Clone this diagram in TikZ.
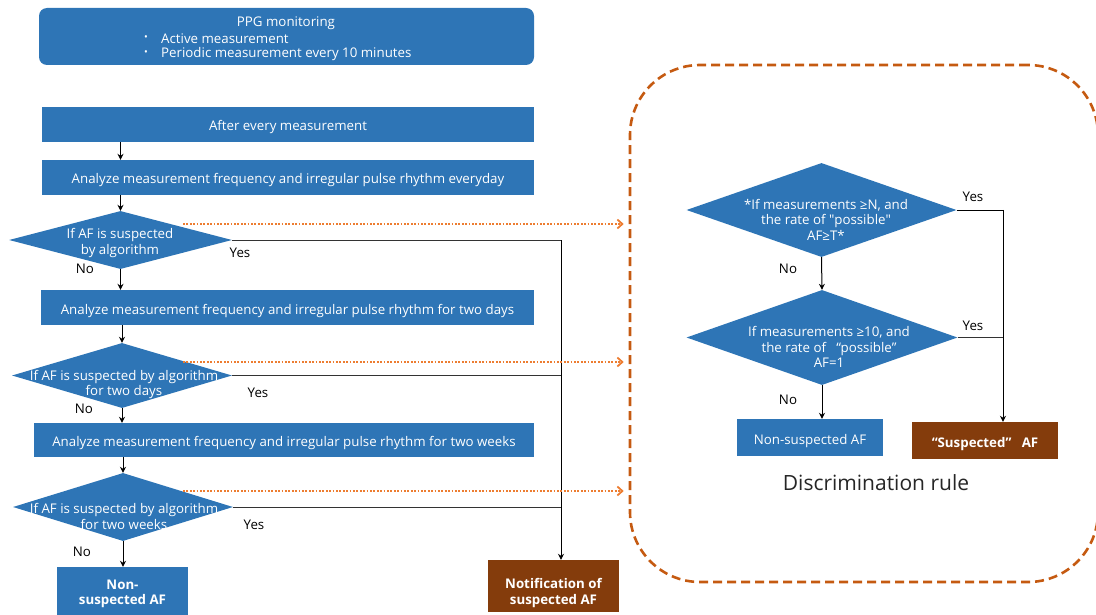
\documentclass[tikz,border=0pt]{standalone}
\usepackage{fontspec}
\setmainfont{Open Sans}
\usetikzlibrary{shapes.geometric,arrows.meta}
\definecolor{flowblue}{HTML}{2E75B6}
\definecolor{flowbrown}{HTML}{843C0C}
\definecolor{linkorange}{HTML}{ED7D31}
\definecolor{ruleorange}{HTML}{C55A11}
\begin{document}
\begin{tikzpicture}[x=1pt,y=-1pt,
  bluebox/.style={fill=flowblue, text=white, inner sep=0pt, font=\fontsize{13.3}{15.5}\selectfont},
  oneline/.style={text height=13pt, text depth=0pt},
  brownbox/.style={fill=flowbrown, text=white, inner sep=0pt, font=\fontsize{13.3}{15.5}\selectfont\bfseries, align=center},
  decision/.style={diamond, fill=flowblue, inner sep=0pt},
  dtext/.style={text=white, align=center, inner sep=0pt, font=\fontsize{13.3}{15.5}\selectfont},
  lbl/.style={inner sep=0pt, font=\fontsize{13.3}{15.5}\selectfont},
  flow/.style={black, line width=1pt, -{Stealth[length=6pt,width=6pt]}},
  yesline/.style={black!80, line width=0.8pt},
  link/.style={linkorange, line width=1.8pt, dash pattern=on 1.8pt off 1.6pt, -{Straight Barb[length=5pt,width=9pt]}, shorten >=5pt},
]
\useasboundingbox (0,0) rectangle (1096,615);

% discrimination rule frame
\node[draw=ruleorange, line width=2.6pt, dash pattern=on 9pt off 5pt,
      rounded corners=70pt, minimum width=468pt, minimum height=517pt, inner sep=0pt]
      (rule) at (864,323.5) {};

% monitoring header
\node[bluebox, rounded corners=8pt, minimum width=495pt, minimum height=57pt] (ppg) at (286.5,36.5) {};
\node[lbl, text=white] (ppgt) at (286,23) {PPG monitoring};
\node[lbl, text=white, font=\fontsize{10}{12}\selectfont] (bul1) at (146,38) {•};
\node[lbl, text=white, anchor=west] (ppg1) at (161,39) {Active measurement};
\node[lbl, text=white, font=\fontsize{10}{12}\selectfont] (bul2) at (146,53) {•};
\node[lbl, text=white, anchor=west] (ppg2) at (161,54) {Periodic measurement every 10 minutes};

% main flow
\node[bluebox, oneline, minimum width=492pt, minimum height=35pt] (b1) at (288,124.5) {After every measurement};
\node[bluebox, oneline, minimum width=492pt, minimum height=35pt] (b2) at (288,177.5) {Analyze measurement frequency and irregular pulse rhythm everyday};
\node[decision, minimum width=223pt, minimum height=58pt] (d1) at (120.5,240) {};
\node[dtext] (d1t) at (120,243) {If AF is suspected\\by algorithm};
\node[bluebox, oneline, minimum width=493pt, minimum height=35pt] (b3) at (287.5,307.5) {Analyze measurement frequency and irregular pulse rhythm for two days};
\node[decision, minimum width=220pt, minimum height=65pt] (d2) at (122,375.5) {};
\node[dtext] (d2t) at (124,384.5) {If AF is suspected by algorithm\\for two days};
\node[bluebox, oneline, minimum width=500pt, minimum height=34pt] (b4) at (284,440) {Analyze measurement frequency and irregular pulse rhythm for two weeks};
\node[decision, minimum width=220pt, minimum height=68pt] (d3) at (123,507) {};
\node[dtext] (d3t) at (124,516.5) {If AF is suspected by algorithm\\for two weeks};
\node[bluebox, minimum width=131pt, minimum height=54pt, align=center, font=\fontsize{13.3}{15.5}\selectfont\bfseries] (non1) at (122.5,594) {Non-\\suspected AF};
\node[brownbox, minimum width=131pt, minimum height=52pt] (notif) at (553.5,586) {};
\node[brownbox, fill=none] (notift) at (553.5,593) {Notification of\\suspected AF};

\draw[flow] (b1.south -| d1.north) -- (b2.north -| d1.north);
\draw[flow] (b2.south -| d1.north) -- (d1.north);
\draw[flow] (d1.south) -- (b3.north -| d1.south);
\draw[flow] (b3.south -| d2.north) -- (d2.north);
\draw[flow] (d2.south) -- (b4.north -| d2.south);
\draw[flow] (b4.south -| d3.north) -- (d3.north);
\draw[flow] (d3.south) -- (non1.north -| d3.south);

% yes branches to notification
\coordinate (bus) at (561,240);
\draw[yesline] (d1.east) -- (bus);
\draw[yesline] (d2.east) -- (d2.east -| bus);
\draw[yesline] (d3.east) -- (d3.east -| bus);
\draw[flow, line width=0.9pt] (bus) -- (bus |- notif.north);

\node[lbl] (y1) at (240,253) {Yes};
\node[lbl] (n1) at (85,269) {No};
\node[lbl] (y2) at (258,393) {Yes};
\node[lbl] (n2) at (84,409) {No};
\node[lbl] (y3) at (254,525) {Yes};
\node[lbl] (n3) at (82,552) {No};

% links to the discrimination rule
\coordinate (o1) at (183,224);
\coordinate (o2) at (183,362);
\coordinate (o3) at (183,491);
\draw[link] (o1) -- (o1 -| rule.west);
\draw[link] (o2) -- (o2 -| rule.west);
\draw[link] (o3) -- (o3 -| rule.west);

% discrimination rule
\node[decision, minimum width=270pt, minimum height=94pt] (r1) at (821.5,210) {};
\node[dtext] (r1t) at (826,219.5) {*If measurements ≥N, and\\the rate of \textquotedbl possible\textquotedbl\\AF≥T*};
\node[decision, minimum width=271pt, minimum height=95pt] (r2) at (822,337.5) {};
\node[dtext] (r2t) at (829,347) {If measurements ≥10, and\\the rate of \ \ “possible”\\AF=1};
\node[bluebox, oneline, minimum width=146pt, minimum height=37pt] (rnon) at (810,437.5) {Non-suspected AF};
\node[brownbox, oneline, minimum width=146pt, minimum height=37pt] (rsus) at (985,440.5) {“Suspected”\ \ \ AF};
\node[inner sep=0pt, font=\fontsize{21}{25}\selectfont, text=black!85] (rulet) at (876,483) {Discrimination rule};

\coordinate (rbus) at (1003,210);
\draw[yesline, black] (r1.east) -- (rbus);
\draw[yesline] (r2.east) -- (r2.east -| rbus);
\draw[flow] (rbus) -- (rbus |- rsus.north);
\draw[flow] (r1.south) -- (r2.north);
\draw[flow] (r2.south) -- (rnon.north -| r2.south);

\node[lbl] (ry1) at (973,197) {Yes};
\node[lbl] (rn1) at (788,269) {No};
\node[lbl] (ry2) at (973,326) {Yes};
\node[lbl] (rn2) at (788,400) {No};
\end{tikzpicture}
\end{document}
